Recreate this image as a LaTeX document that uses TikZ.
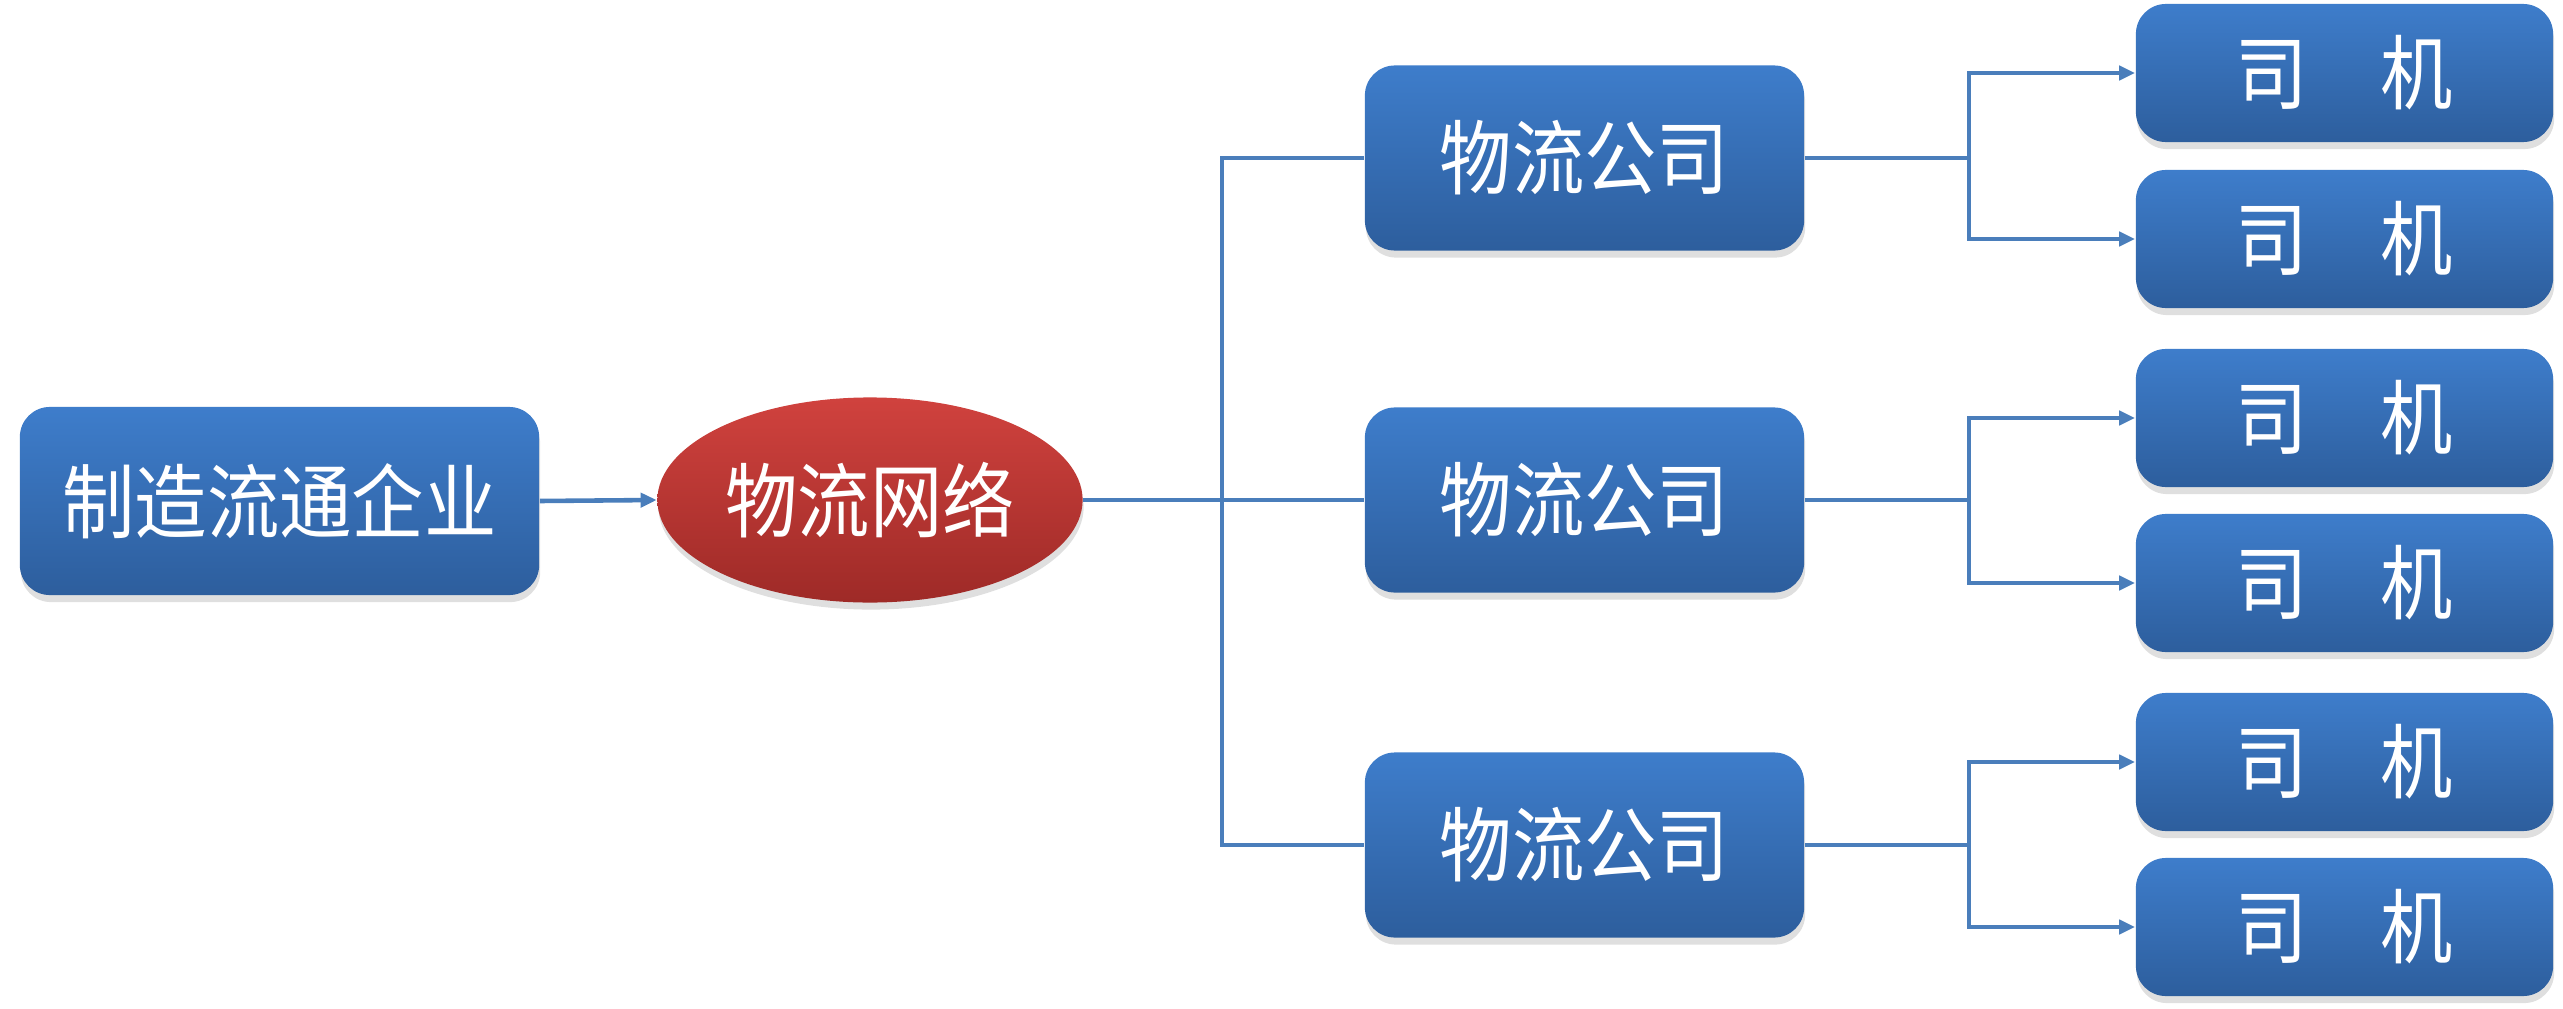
\documentclass[tikz,border=0pt]{standalone}
\usepackage{fontspec}
\usepackage{graphicx}
\newfontfamily\cjk{Noto Sans CJK SC}
\usetikzlibrary{shapes.geometric,shadows,arrows.meta}
\definecolor{boxtop}{HTML}{3E7DCB}
\definecolor{boxbot}{HTML}{2D5E9D}
\definecolor{redtop}{HTML}{D0423E}
\definecolor{redbot}{HTML}{9E2A27}
\definecolor{linec}{HTML}{4A7EBB}
\newcommand{\tallx}[1]{\scalebox{0.98}[1.1]{#1}}
\tikzset{
  bluebox/.style={rectangle, rounded corners=0.3cm, top color=boxtop, bottom color=boxbot, draw=none,
    inner sep=0pt, text=white, font=\cjk\fontsize{21}{25}\selectfont,
    drop shadow={shadow xshift=0.3pt, shadow yshift=-2pt, opacity=0.25, fill=black!50}},
  rednode/.style={ellipse, top color=redtop, bottom color=redbot, draw=none, inner sep=0pt,
    text=white, font=\cjk\fontsize{21}{25}\selectfont,
    drop shadow={shadow xshift=0.3pt, shadow yshift=-2pt, opacity=0.25, fill=black!50}},
  conn/.style={draw=linec, line width=1.3pt},
  arr/.style={conn, -{Triangle[length=0.16cm,width=0.14cm]}},
}
\begin{document}
\begin{tikzpicture}[x=0.01cm,y=-0.01cm]
\useasboundingbox (0,0) rectangle (2563,1009);
\node[bluebox, minimum width=5.19cm, minimum height=1.88cm] (mfg) at (279.5,501) {\tallx{制造流通企业}};
\node[rednode, minimum width=4.25cm, minimum height=2.05cm] (net) at (870,500) {\tallx{物流网络}};
\foreach \i/\y in {1/158,2/500,3/845}{
  \node[bluebox, minimum width=4.39cm, minimum height=1.85cm] (c\i) at (1584.5,\y) {\tallx{物流公司}};
}
\foreach \i/\y in {1/73,2/239,3/418,4/583,5/762,6/927}{
  \node[bluebox, minimum width=4.17cm, minimum height=1.38cm] (d\i) at (2344.5,\y) {\tallx{司　机}};
}
\coordinate (j) at (1222,500);
\coordinate (b1) at (1969,158);
\coordinate (b2) at (1969,500);
\coordinate (b3) at (1969,845);
\draw[arr] (mfg.east) -- (net.west);
\draw[conn] (net.east) -- (j);
\draw[conn] (c1.west) -| (j) |- (c3.west);
\draw[conn] (j) -- (c2.west);
\draw[conn] (c1.east) -- (b1);
\draw[conn] (c2.east) -- (b2);
\draw[conn] (c3.east) -- (b3);
\draw[arr] (b1) |- (d1.west);
\draw[arr] (b1) |- (d2.west);
\draw[arr] (b2) |- (d3.west);
\draw[arr] (b2) |- (d4.west);
\draw[arr] (b3) |- (d5.west);
\draw[arr] (b3) |- (d6.west);
\end{tikzpicture}
\end{document}
